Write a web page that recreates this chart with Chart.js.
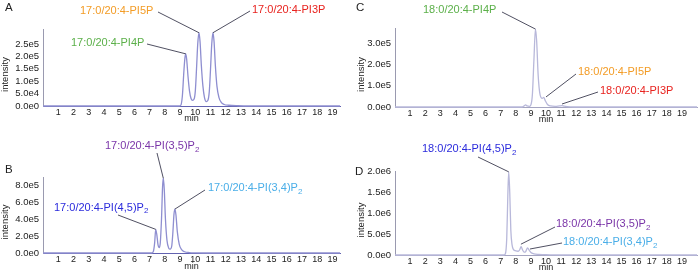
<!DOCTYPE html>
<html><head><meta charset="utf-8">
<script src="https://cdn.jsdelivr.net/npm/chart.js@4/dist/chart.umd.min.js"></script>
<style>
html,body{margin:0;padding:0;background:#fff;width:700px;height:273px;overflow:hidden;}
canvas{position:absolute;}
</style></head><body>
<canvas id="cA" width="350" height="130" style="left:0;top:0"></canvas>
<canvas id="cC" width="350" height="130" style="left:350px;top:0"></canvas>
<canvas id="cB" width="350" height="143" style="left:0;top:130px"></canvas>
<canvas id="cD" width="350" height="143" style="left:350px;top:130px"></canvas>
<script>
// ---------- DATA ----------
const xTickValues = [1,2,3,4,5,6,7,8,9,10,11,12,13,14,15,16,17,18,19];

// Panel A: 17:0/20:4 PIP isomers
const timeA = [0,8.95,9.05,9.15,9.25,9.32,9.37,9.43,9.52,9.62,9.72,9.82,9.92,10.0,10.08,10.16,10.24,10.31,10.4,10.5,10.6,10.72,10.82,10.92,11.0,11.08,11.16,11.23,11.32,11.42,11.55,11.7,11.9,12.2,12.8,13.5,19.5];
const intensityA = [0,0,3e3,4e4,1.4e5,1.95e5,2.1e5,1.9e5,1.2e5,6e4,3e4,2.3e4,2.8e4,6e4,1.5e5,2.5e5,2.95e5,2.6e5,1.6e5,8e4,3.5e4,1.8e4,2.2e4,6e4,1.5e5,2.5e5,2.95e5,2.6e5,1.6e5,8e4,3.5e4,1.5e4,6e3,3e3,1e3,0,0];
const yTicksA = [0,5e4,1e5,1.5e5,2e5,2.5e5];
const labelTextA = ['17:0/20:4-PI4P','17:0/20:4-PI5P','17:0/20:4-PI3P'];
const peakTimeA = [9.37,10.24,11.16];
const peakValueA = [2.1e5,2.95e5,2.95e5];

// Panel C: 18:0/20:4 PIP isomers
const timeC = [0,8.4,8.55,8.65,8.75,8.9,9.0,9.1,9.2,9.3,9.38,9.48,9.6,9.75,9.85,9.95,10.1,10.3,10.6,10.9,11.05,11.2,11.6,12.2,20];
const intensityC = [0,0,5e3,1e4,5e3,3e3,1e4,6e4,2.2e5,3.65e5,3.1e5,1.5e5,6e4,4e4,4.5e4,3e4,1.2e4,5e3,3e3,5e3,6e3,4e3,1e3,0,0];
const yTicksC = [0,1e5,2e5,3e5];
const labelTextC = ['18:0/20:4-PI4P','18:0/20:4-PI5P','18:0/20:4-PI3P'];
const peakTimeC = [9.3,10.0,11.06];
const peakValueC = [3.65e5,4.7e4,1.4e4];

// Panel B: 17:0/20:4 PIP2 isomers
const timeB = [0,7.15,7.25,7.33,7.4,7.47,7.55,7.63,7.7,7.78,7.85,7.9,7.96,8.04,8.14,8.25,8.35,8.45,8.53,8.6,8.66,8.73,8.82,8.95,9.1,9.3,9.6,10,10.5,19.5];
const intensityB = [0,0,2e4,1.2e5,2.8e5,2.2e5,1e5,6.5e4,1.2e5,4e5,7.8e5,8.85e5,7.6e5,4e5,1.5e5,6e4,4.5e4,8e4,2.5e5,4.6e5,5.2e5,4.5e5,2.5e5,1e5,4e4,1.5e4,5e3,1e3,0,0];
const yTicksB = [0,2e5,4e5,6e5,8e5];
const labelTextB = ['17:0/20:4-PI(3,5)P','17:0/20:4-PI(3,4)P','17:0/20:4-PI(4,5)P'];
const peakTimeB = [7.9,8.66,7.4];
const peakValueB = [8.85e5,5.2e5,2.8e5];

// Panel D: 18:0/20:4 PIP2 isomers
const timeD = [0,7.2,7.3,7.4,7.47,7.53,7.6,7.67,7.75,7.85,8.0,8.15,8.25,8.35,8.45,8.55,8.65,8.78,8.88,9.0,9.2,9.5,9.9,10.3,11,20];
const intensityD = [0,0,2e4,4e5,1.4e6,2.0e6,1.5e6,6e5,2.5e5,1.3e5,1e5,9e4,1.2e5,2e5,1.2e5,7e4,8e4,1.7e5,1.2e5,6e4,3e4,1.5e4,8e3,2e3,0,0];
const yTicksD = [0,5e5,1e6,1.5e6,2e6];
const labelTextD = ['18:0/20:4-PI(4,5)P','18:0/20:4-PI(3,5)P','18:0/20:4-PI(3,4)P'];
const peakTimeD = [7.53,8.34,8.94];
const peakValueD = [2.0e6,2.6e5,1.44e5];

// ---------- STYLE / LAYOUT ----------
const FONT = '"Liberation Sans", Arial, Helvetica, sans-serif';
const C_GREEN='#5cb04a', C_ORANGE='#f39c26', C_RED='#e8231f', C_PURPLE='#7a35a8', C_BLUE='#2b2bdc', C_LBLUE='#4aaee8';

const panels = [
  {id:'cA', letter:'A', letterPos:[5,8], W:350,H:130, area:{l:43,r:340,t:29,b:106}, xmax:19.5, ymax:3.1e5,
   time:timeA, val:intensityA, yTicks:yTicksA, lineColor:'#8e8ed0', axisColor:'#6262b0', yTitleX:5, minPad:6.5,
   labels:labelTextA, pt:peakTimeA, pv:peakValueA, colors:[C_GREEN,C_ORANGE,C_RED], sub:false,
   pos:[{tx:71,ty:43,lx:147,ly:44},{tx:80,ty:11,lx:158,ly:12},{tx:252,ty:10,lx:250,ly:11}]},
  {id:'cC', letter:'C', letterPos:[6,8], W:350,H:130, area:{l:45,r:347,t:28,b:107}, xmax:20, ymax:3.7e5,
   time:timeC, val:intensityC, yTicks:yTicksC, lineColor:'#b8b8da', axisColor:'#a4a4c0', yTitleX:11, minPad:5.5,
   labels:labelTextC, pt:peakTimeC, pv:peakValueC, colors:[C_GREEN,C_ORANGE,C_RED], sub:false,
   pos:[{tx:73,ty:10,lx:152,ly:12},{tx:228,ty:72,lx:226,ly:74},{tx:250,ty:91,lx:248,ly:92}]},
  {id:'cB', letter:'B', letterPos:[5,40], W:350,H:143, area:{l:43,r:340,t:47,b:123}, xmax:19.5, ymax:9.0e5,
   time:timeB, val:intensityB, yTicks:yTicksB, lineColor:'#8e8ed0', axisColor:'#6262b0', yTitleX:5, minPad:1,
   labels:labelTextB, pt:peakTimeB, pv:peakValueB, colors:[C_PURPLE,C_LBLUE,C_BLUE], sub:true,
   pos:[{tx:105,ty:16,lx:157,ly:23},{tx:208,ty:58,lx:205,ly:60},{tx:54,ty:77.5,lx:118,ly:85}]},
  {id:'cD', letter:'D', letterPos:[5,42], W:350,H:143, area:{l:45,r:347,t:41,b:125}, xmax:20, ymax:2.02e6,
   time:timeD, val:intensityD, yTicks:yTicksD, lineColor:'#b8b8da', axisColor:'#a4a4c0', yTitleX:11, minPad:0.5,
   labels:labelTextD, pt:peakTimeD, pv:peakValueD, colors:[C_BLUE,C_PURPLE,C_LBLUE], sub:true,
   pos:[{tx:72,ty:19,lx:128,ly:27},{tx:206,ty:94,lx:205,ly:97},{tx:213,ty:112,lx:212,ly:113}]}
];

function drawRich(ctx, text, sub, x, y, color) {
  ctx.fillStyle = color;
  ctx.textAlign = 'left'; ctx.textBaseline = 'middle';
  ctx.font = '11px ' + FONT;
  ctx.fillText(text, x, y);
  if (sub) {
    const w = ctx.measureText(text).width;
    ctx.font = '8px ' + FONT;
    ctx.fillText('2', x + w, y + 3.5);
  }
}

const annotPlugin = {
  id: 'annot',
  afterDraw(chart, args, o) {
    const p = o.panel; if (!p) return;
    const ctx = chart.ctx, ca = chart.chartArea;
    const xs = chart.scales.x, ys = chart.scales.y;
    ctx.save();
    ctx.fillStyle = '#222'; ctx.font = '11.5px ' + FONT; ctx.textAlign = 'left'; ctx.textBaseline = 'middle';
    ctx.fillText(p.letter, p.letterPos[0], p.letterPos[1]);
    ctx.save();
    ctx.font = '9.5px ' + FONT; ctx.textAlign = 'center';
    ctx.translate(p.yTitleX, (ca.top + ca.bottom) / 2 + 7);
    ctx.rotate(-Math.PI / 2);
    ctx.fillText('intensity', 0, 0);
    ctx.restore();
    p.labels.forEach((txt, i) => {
      const L = p.pos[i];
      const px = xs.getPixelForValue(p.pt[i]);
      const py = ys.getPixelForValue(p.pv[i]);
      ctx.strokeStyle = '#3c3c50'; ctx.lineWidth = 0.9;
      ctx.beginPath(); ctx.moveTo(L.lx, L.ly); ctx.lineTo(px, py); ctx.stroke();
      drawRich(ctx, txt, p.sub, L.tx, L.ty, p.colors[i]);
    });
    ctx.restore();
  }
};

panels.forEach(p => {
  const data = p.time.map((t, i) => ({x: t, y: p.val[i]}));
  new Chart(document.getElementById(p.id), {
    type: 'line',
    data: { datasets: [{ data, borderColor: p.lineColor, borderWidth: 1.3, pointRadius: 0,
      cubicInterpolationMode: 'monotone', fill: false, clip: 4 }] },
    options: {
      responsive: false, animation: false, devicePixelRatio: 1,
      layout: { padding: { left: 0, top: p.area.t, right: p.W - p.area.r, bottom: 0 } },
      plugins: { legend: {display:false}, tooltip: {enabled:false}, annot: { panel: p } },
      scales: {
        x: {
          type: 'linear', min: 0, max: p.xmax,
          afterBuildTicks: s => { s.ticks = xTickValues.map(v => ({value: v})); },
          afterFit: s => { s.height = p.H - p.area.b; },
          grid: { display: false, drawTicks: false },
          border: { display: true, color: p.axisColor, width: 1 },
          ticks: { padding: 1, color: '#222', font: { size: 9, family: FONT }, maxRotation: 0, autoSkip: false,
                   callback: v => String(v) },
          title: { display: true, text: 'min', color: '#222', font: { size: 9, family: FONT }, padding: {top:0, bottom: p.minPad} }
        },
        y: {
          type: 'linear', min: 0, max: p.ymax,
          afterBuildTicks: s => { s.ticks = p.yTicks.map(v => ({value: v})); },
          afterFit: s => { s.width = p.area.l; },
          grid: { display: false, drawTicks: false },
          border: { display: true, color: '#9a9ab0', width: 1, dash: [1, 1] },
          ticks: { padding: 4, color: '#222', font: { size: 9.5, family: FONT },
                   callback: v => Number(v).toExponential(1).replace('+', '') }
        }
      }
    },
    plugins: [annotPlugin]
  });
});
</script>
</body></html>
